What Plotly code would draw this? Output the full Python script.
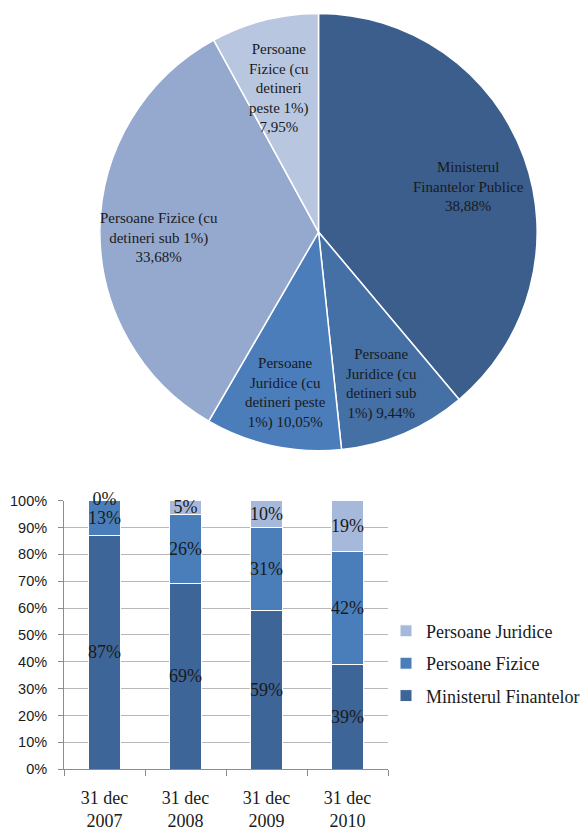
import math
import plotly.graph_objects as go

# ---- Pie data ----
pie_labels = [
    "Ministerul<br>Finantelor Publice",
    "Persoane<br>Juridice (cu<br>detineri sub<br>1%)",
    "Persoane<br>Juridice (cu<br>detineri peste<br>1%)",
    "Persoane Fizice (cu<br>detineri sub 1%)",
    "Persoane<br>Fizice (cu<br>detineri<br>peste 1%)",
]
pie_values = [38.88, 9.44, 10.05, 33.68, 7.95]
pie_value_text = ["38,88%", "9,44%", "10,05%", "33,68%", "7,95%"]
pie_label_join = ["<br>", " ", " ", "<br>", "<br>"]
pie_colors = ["#3b5e8c", "#4470a6", "#4a7dba", "#95a9cf", "#b9c6e0"]

# ---- Bar data ----
categories = ["31 dec<br>2007", "31 dec<br>2008", "31 dec<br>2009", "31 dec<br>2010"]
ministerul = [87, 69, 59, 39]
fizice = [13, 26, 31, 42]
juridice = [0, 5, 10, 19]
series_names = ["Ministerul Finantelor", "Persoane Fizice", "Persoane Juridice"]
bar_colors = ["#3e6597", "#4a7ebb", "#a7b9db"]
ytick_vals = list(range(0, 101, 10))
ytick_text = [f"{v}%" for v in ytick_vals]

W, H = 587, 831
serif = "Liberation Serif, DejaVu Serif, serif"
txt_color = "#1a1a1a"

# pie target: centre (318.5, 229) px, radius ~219
pcx, pcy, half = 318.5, 229, 223.5
pie_dx = [(pcx - half) / W, (pcx + half) / W]
pie_dy = [1 - (pcy + half) / H, 1 - (pcy - half) / H]

fig = go.Figure()
fig.add_trace(go.Pie(
    values=pie_values,
    labels=[l.replace("<br>", " ") for l in pie_labels],
    sort=False,
    direction="clockwise",
    rotation=0,
    marker=dict(colors=pie_colors, line=dict(color="white", width=1.5)),
    textinfo="none",
    hoverinfo="label+percent",
    showlegend=False,
    domain=dict(x=pie_dx, y=pie_dy),
))

# pie label annotations positioned from the data angles
R = 219
label_dy = 8
total = sum(pie_values)
cum = 0
for lab, val, vt, j in zip(pie_labels, pie_values, pie_value_text, pie_label_join):
    mid = (cum + val / 2) / total * 2 * math.pi
    cum += val
    r = 0.73 * R
    px = pcx + r * math.sin(mid)
    py = pcy - r * math.cos(mid) + label_dy
    fig.add_annotation(
        x=px / W, y=1 - py / H, xref="paper", yref="paper",
        text=lab + j + vt, showarrow=False, align="center",
        xanchor="center", yanchor="middle",
        font=dict(family=serif, size=15, color=txt_color),
    )

# stacked bars
ranks = [3, 2, 1]
for (name, vals, col), rk in zip([
    (series_names[0], ministerul, bar_colors[0]),
    (series_names[1], fizice, bar_colors[1]),
    (series_names[2], juridice, bar_colors[2]),
], ranks):
    fig.add_trace(go.Bar(
        x=categories, y=vals, name=name,
        marker=dict(color=col, line=dict(color="white", width=1)),
        text=[f"{v}%" if v > 0 else "" for v in vals],
        textposition="inside",
        textangle=0,
        insidetextanchor="middle",
        textfont=dict(family=serif, size=18, color=txt_color),
        cliponaxis=False,
        width=0.4,
        legendgroup=name,
        legendrank=rk,
        xaxis="x", yaxis="y",
    ))

# labels for zero-height segments, centred at the top of the stack
totals = [a + b + c for a, b, c in zip(ministerul, fizice, juridice)]
zx = [c for c, v in zip(categories, juridice) if v == 0]
zy = [t for t, v in zip(totals, juridice) if v == 0]
fig.add_trace(go.Scatter(
    x=zx, y=zy, mode="text", text=["0%"] * len(zx),
    textposition="middle center",
    textfont=dict(family=serif, size=18, color=txt_color),
    showlegend=False, hoverinfo="skip", cliponaxis=False,
    xaxis="x", yaxis="y",
))

fig.update_layout(
    width=W, height=H,
    margin=dict(l=0, r=0, t=0, b=0),
    paper_bgcolor="white", plot_bgcolor="white",
    barmode="stack",
    uniformtext=dict(minsize=18, mode="show"),
    xaxis=dict(
        domain=[64 / W, 388 / W],
        tickson="boundaries", ticks="outside", ticklen=6, tickcolor="#8c8c8c",
        showline=True, linecolor="#8c8c8c", linewidth=1,
        showgrid=False,
        ticklabelstandoff=12,
        tickfont=dict(family=serif, size=18, color=txt_color),
        fixedrange=True,
    ),
    yaxis=dict(
        domain=[1 - 778 / H, 1 - 503.5 / H],
        range=[0, 100],
        tickvals=ytick_vals, ticktext=ytick_text,
        ticks="outside", ticklen=5, tickcolor="#8c8c8c",
        showline=True, linecolor="#8c8c8c", linewidth=1,
        showgrid=True, gridcolor="#b8b8b8", gridwidth=1,
        zeroline=False,
        ticklabelstandoff=8,
        tickfont=dict(family="Liberation Sans", size=14.5, color=txt_color),
        fixedrange=True,
    ),
    legend=dict(
        x=386 / W, xanchor="left", y=1 - 618 / H, yanchor="top",
        traceorder="grouped", tracegroupgap=6,
        font=dict(family=serif, size=18, color=txt_color),
        bgcolor="rgba(0,0,0,0)", itemwidth=30,
    ),
)

fig.write_html("out.html")
